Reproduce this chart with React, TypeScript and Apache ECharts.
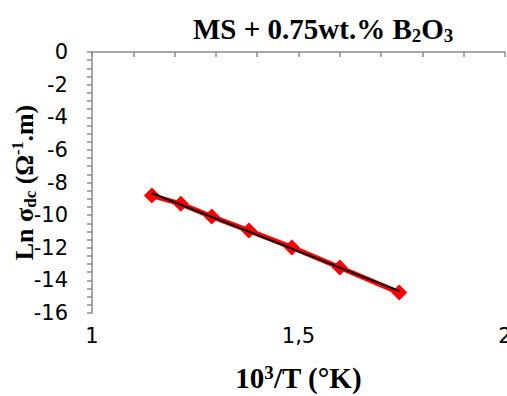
import React, { useEffect, useRef } from "react";
import * as echarts from "echarts";

const invT = [1.145, 1.215, 1.29, 1.38, 1.484, 1.6, 1.744];
const lnSigma = [-8.8, -9.31, -10.09, -10.95, -11.98, -13.21, -14.75];
const xTicks = [1, 1.5, 2];
const yTicks = [0, -2, -4, -6, -8, -10, -12, -14, -16];

function fit(xs: number[], ys: number[]) {
  const n = xs.length;
  const mx = xs.reduce((a, b) => a + b, 0) / n;
  const my = ys.reduce((a, b) => a + b, 0) / n;
  let sxy = 0, sxx = 0;
  for (let i = 0; i < n; i++) {
    sxy += (xs[i] - mx) * (ys[i] - my);
    sxx += (xs[i] - mx) ** 2;
  }
  const b = sxy / sxx;
  return { a: my - b * mx, b };
}

export default function App() {
  const ref = useRef<HTMLDivElement>(null);
  useEffect(() => {
    if (!ref.current) return;
    const chart = echarts.init(ref.current, null, { renderer: "svg" });
    const { a, b } = fit(invT, lnSigma);
    const x0 = invT[0], x1 = invT[invT.length - 1];
    const trend = [[x0, a + b * x0], [x1, a + b * x1]];
    const serif = "'Liberation Serif', 'Times New Roman', serif";
    const sans = "'DejaVu Sans', Arial, sans-serif";
    const axisColor = "#8c8c8c";
    chart.setOption({
      animation: false,
      backgroundColor: "#ffffff",
      title: {
        text: "{a|MS + 0.75wt.% B}{s|2}{a|O}{s|3}",
        left: 188,
        top: 8,
        textStyle: {
          rich: {
            a: { fontFamily: serif, fontWeight: "bold", fontSize: 29, color: "#000", lineHeight: 32, verticalAlign: "middle" },
            s: { fontFamily: serif, fontWeight: "bold", fontSize: 19, color: "#000", lineHeight: 32, verticalAlign: "bottom" },
          },
        },
      },
      grid: { left: 92, right: 2, top: 52, bottom: 83, containLabel: false, outerBoundsMode: "none" },
      xAxis: {
        type: "value",
        min: 1,
        max: 2,
        interval: 0.5,
        name: "{a|10}{u|3}{a|/T (°K)}",
        nameLocation: "middle",
        nameGap: 50,
        nameMoveOverlap: false,
        nameTextStyle: {
          rich: {
            a: { fontFamily: serif, fontWeight: "bold", fontSize: 29, color: "#000", lineHeight: 30, verticalAlign: "middle" },
            u: { fontFamily: serif, fontWeight: "bold", fontSize: 19, color: "#000", lineHeight: 30, verticalAlign: "top" },
          },
        },
        axisLine: { show: true, lineStyle: { color: axisColor, width: 1.5 } },
        axisTick: { show: true, length: 5, lineStyle: { color: axisColor, width: 1.5 } },
        minorTick: { show: true, splitNumber: 5, length: 5, lineStyle: { color: axisColor, width: 1.5 } },
        splitLine: { show: false },
        axisLabel: {
          fontFamily: sans,
          fontSize: 21,
          color: "#000",
          margin: 12,
          hideOverlap: false,
          formatter: (v: number) => (xTicks.includes(v) ? String(v).replace(".", ",") : ""),
        },
      },
      yAxis: {
        type: "value",
        min: -16,
        max: 0,
        interval: 2,
        name: "{a|Ln σ}{s|dc}{a| (Ω}{u|-1}{a|.m)}",
        nameLocation: "middle",
        nameRotate: 90,
        nameGap: 53,
        nameMoveOverlap: false,
        nameTextStyle: {
          rich: {
            a: { fontFamily: serif, fontWeight: "bold", fontSize: 26, color: "#000", lineHeight: 30, verticalAlign: "middle" },
            s: { fontFamily: serif, fontWeight: "bold", fontSize: 17, color: "#000", lineHeight: 30, verticalAlign: "bottom" },
            u: { fontFamily: serif, fontWeight: "bold", fontSize: 16, color: "#000", lineHeight: 30, verticalAlign: "top" },
          },
        },
        axisLine: { show: true, lineStyle: { color: axisColor, width: 1.5 } },
        axisTick: { show: true, length: 5, lineStyle: { color: axisColor, width: 1.5 } },
        minorTick: { show: true, splitNumber: 4, length: 5, lineStyle: { color: axisColor, width: 1.5 } },
        splitLine: { show: false },
        axisLabel: {
          fontFamily: sans,
          fontSize: 21,
          color: "#000",
          margin: 24,
          formatter: (v: number) => (yTicks.includes(v) ? String(v) : ""),
        },
      },
      series: [
        {
          type: "line",
          data: invT.map((x, i) => [x, lnSigma[i]]),
          symbol: "diamond",
          symbolSize: 16,
          itemStyle: { color: "#ff0000" },
          lineStyle: { color: "#ff0000", width: 5 },
          z: 2,
        },
        {
          type: "line",
          data: trend,
          symbol: "none",
          lineStyle: { color: "#000", width: 2 },
          z: 3,
        },
      ],
    });
    return () => chart.dispose();
  }, []);
  return <div ref={ref} style={{ width: 507, height: 396, position: "absolute", left: 0, top: 0 }} />;
}
